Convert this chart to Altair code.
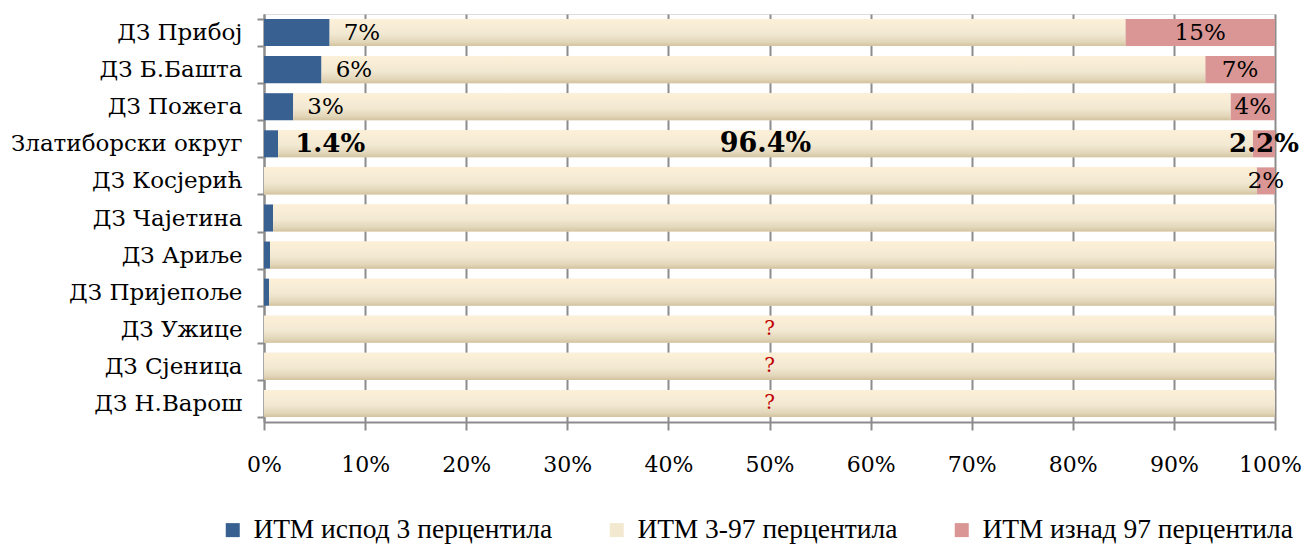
import altair as alt
import pandas as pd

categories = ["ДЗ Прибој", "ДЗ Б.Башта", "ДЗ Пожега", "Златиборски округ", "ДЗ Косјерић",
              "ДЗ Чајетина", "ДЗ Ариље", "ДЗ Пријепоље", "ДЗ Ужице", "ДЗ Сјеница", "ДЗ Н.Варош"]
below = [6.5, 5.7, 2.9, 1.4, 0.0, 0.9, 0.6, 0.5, 0.0, 0.0, 0.0]
middle = [78.7, 87.4, 92.7, 96.4, 98.2, 99.1, 99.4, 99.5, 100.0, 100.0, 100.0]
above = [14.8, 6.9, 4.4, 2.2, 1.8, 0.0, 0.0, 0.0, 0.0, 0.0, 0.0]
below_labels = ["7%", "6%", "3%", "1.4%", "", "", "", "", "", "", ""]
middle_labels = ["", "", "", "96.4%", "", "", "", "", "?", "?", "?"]
above_labels = ["15%", "7%", "4%", "2.2%", "2%", "", "", "", "", "", ""]
bold_rows = [False, False, False, True, False, False, False, False, False, False, False]
series_names = ["ИТМ испод 3 перцентила", "ИТМ 3-97 перцентила", "ИТМ изнад 97 перцентила"]
series_colors = ["#386192", "#F3E8D0", "#D99694"]

rows = []
lab = []
for i, c in enumerate(categories):
    b, m, a = below[i], middle[i], above[i]
    rows.append({"cat": c, "series": series_names[0], "x0": 0, "x1": b})
    rows.append({"cat": c, "series": series_names[1], "x0": b, "x1": b + m})
    rows.append({"cat": c, "series": series_names[2], "x0": b + m, "x1": b + m + a})
    lab.append({"cat": c, "bend": b, "mid": b + m / 2, "pmid": b + m + a / 2,
                "bl": below_labels[i], "ml": middle_labels[i], "al": above_labels[i],
                "bold": bold_rows[i]})
df = pd.DataFrame(rows)
ldf = pd.DataFrame(lab)

FONT = "DejaVu Serif"
xs = alt.Scale(domain=[0, 100], nice=False)
ys = alt.Y("cat:N", sort=categories, scale=alt.Scale(paddingInner=0.27, paddingOuter=0.135),
           axis=alt.Axis(title=None, tickBand="extent", tickSize=7, tickColor="#8C8C8C",
                         tickWidth=2, domainColor="#8C8C8C", domainWidth=2,
                         labelFont=FONT, labelFontSize=23, labelColor="#000000",
                         labelPadding=15, labelLimit=400, grid=False))

bars = alt.Chart(df).mark_bar().encode(
    x=alt.X("x0:Q", scale=xs,
            axis=alt.Axis(title=None, values=list(range(0, 101, 10)),
                          labelExpr="datum.value + '%'", grid=True, gridColor="#8C8C8C",
                          gridWidth=2, tickColor="#8C8C8C", tickWidth=2, tickSize=8,
                          domainColor="#8C8C8C", domainWidth=2, labelFont=FONT,
                          labelFontSize=22, labelColor="#000000", labelPadding=24,
                          labelOffset=alt.condition("datum.value == 100", alt.value(-5), alt.value(0)),
                          labelFlush=False, labelOverlap=False)),
    x2="x1:Q",
    y=ys,
    color=alt.Color("series:N", scale=alt.Scale(domain=series_names, range=series_colors),
                    legend=alt.Legend(title=None, orient="none", direction="horizontal",
                                      legendX=-45, legendY=502, symbolType="square",
                                      symbolSize=196, symbolStrokeWidth=0,
                                      labelFont="Liberation Serif", labelFontSize=27.5,
                                      labelColor="#000000", columnPadding=50,
                                      labelLimit=500, labelOffset=7)),
)

grad = alt.Chart(df).transform_filter(alt.datum.series == series_names[1]).mark_bar(
    fill=alt.Gradient(gradient="linear", x1=0, y1=0, x2=0, y2=1,
                      stops=[alt.GradientStop(offset=0, color="#FDF0D8"),
                             alt.GradientStop(offset=0.55, color="#F2E9D3"),
                             alt.GradientStop(offset=0.85, color="#E2D6B9"),
                             alt.GradientStop(offset=1, color="#D2C29F")])
).encode(x=alt.X("x0:Q", scale=xs), x2="x1:Q", y=alt.Y("cat:N", sort=categories))

base = alt.Chart(ldf)
bl_n = base.transform_filter("!datum.bold").mark_text(align="left", dx=14, font=FONT,
                                                      fontSize=23, color="#000000").encode(
    x=alt.X("bend:Q", scale=xs), y=alt.Y("cat:N", sort=categories), text="bl:N")
bl_b = base.transform_filter("datum.bold").mark_text(align="left", dx=17, font=FONT,
                                                     fontSize=26, fontWeight="bold",
                                                     color="#000000").encode(
    x=alt.X("bend:Q", scale=xs), y=alt.Y("cat:N", sort=categories), text="bl:N")
ml_b = base.transform_filter("datum.bold").mark_text(align="center", font=FONT,
                                                     fontSize=27, fontWeight="bold",
                                                     color="#000000").encode(
    x=alt.X("mid:Q", scale=xs), y=alt.Y("cat:N", sort=categories), text="ml:N")
ml_q = base.transform_filter("datum.ml == '?'").mark_text(align="center", font=FONT,
                                                          fontSize=20, color="#C00000").encode(
    x=alt.X("mid:Q", scale=xs), y=alt.Y("cat:N", sort=categories), text="ml:N")
al_n = base.transform_filter("!datum.bold").mark_text(align="center", font=FONT,
                                                      fontSize=23, color="#000000").encode(
    x=alt.X("pmid:Q", scale=xs), y=alt.Y("cat:N", sort=categories), text="al:N")
al_b = base.transform_filter("datum.bold").mark_text(align="center", font=FONT,
                                                     fontSize=26, fontWeight="bold",
                                                     color="#000000").encode(
    x=alt.X("pmid:Q", scale=xs), y=alt.Y("cat:N", sort=categories), text="al:N")

chart = alt.layer(bars, grad, bl_n, bl_b, ml_b, ml_q, al_n, al_b).properties(
    width=1011, height=408,
    autosize=alt.AutoSizeParams(type="none"),
    padding={"left": 256, "top": 6, "right": 27, "bottom": 124},
).configure_view(stroke=None).configure(background="#FFFFFF")

chart.save("out.html", embed_options={"renderer": "svg", "actions": False})
